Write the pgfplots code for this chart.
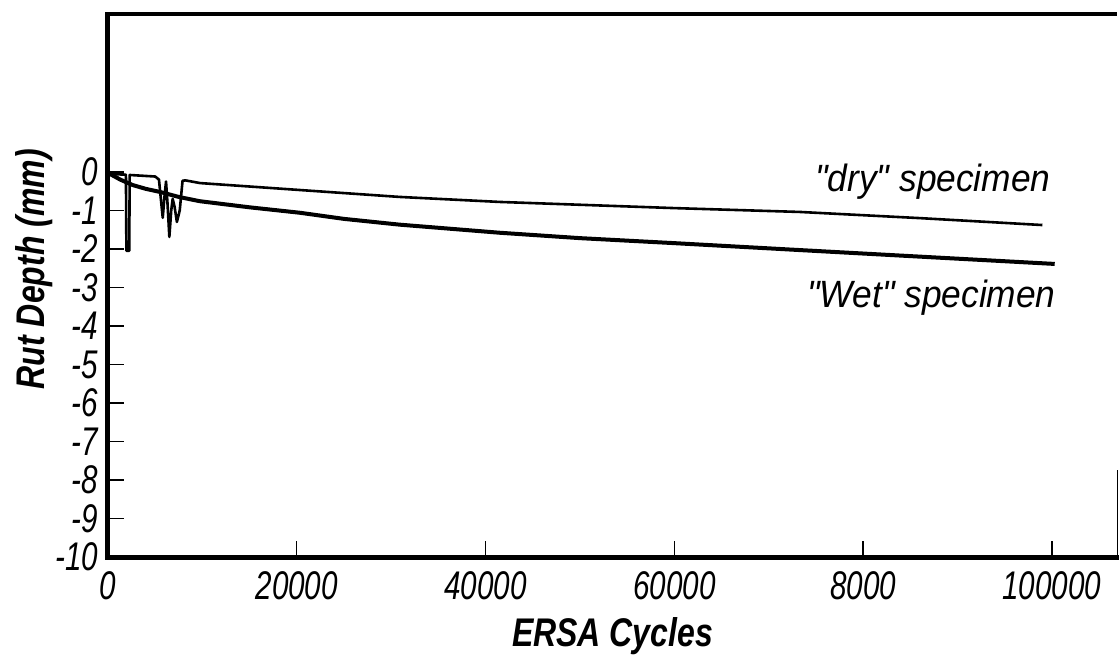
\documentclass[border=0pt]{standalone}
\usepackage{pgfplots}
\pgfplotsset{compat=1.18}
\usepackage{fontspec}
\setmainfont{Liberation Sans}
\newfontfamily\tickfont[FakeStretch=0.74]{Liberation Sans}
\newfontfamily\notefont[FakeStretch=0.93]{Liberation Sans}
\newfontfamily\labfont[FakeStretch=0.8]{Liberation Sans}

% rut depth (mm) vs ERSA cycles
\pgfplotstableread{
x y
0 0
400 -0.08
1300 -0.2
2600 -0.34
4000 -0.44
5500 -0.52
7500 -0.65
9700 -0.76
15000 -0.92
20300 -1.06
25000 -1.22
30900 -1.37
41500 -1.58
50000 -1.72
60000 -1.85
73300 -2.03
86000 -2.2
100300 -2.39
}\wettab

\pgfplotstableread{
x y
0 -0.02
300 -0.06
1900 -0.07
1950 -2.05
2250 -2.05
2300 -0.08
5000 -0.12
5400 -0.2
5600 -0.7
5800 -1.19
6000 -0.6
6150 -0.25
6300 -0.8
6500 -1.69
6700 -1.0
6850 -0.7
7050 -0.9
7300 -1.3
7600 -1.0
7900 -0.23
8200 -0.22
9750 -0.29
20300 -0.47
30900 -0.65
41500 -0.78
60000 -0.94
73300 -1.04
86000 -1.2
99000 -1.38
}\drytab

\begin{document}
\begin{tikzpicture}
\begin{axis}[
    scale only axis,
    width=504.5pt, height=271.5pt,
    xmin=0, xmax=106900,
    ymin=-10, ymax=4.1,
    axis lines=left,
    axis line style={-, line width=2.5pt, line cap=rect},
    clip=false,
    scaled x ticks=false,
    tick align=inside,
    major tick length=8pt,
    tick style={line width=0.7pt, black},
    xtick={0,20000,40000,60000,80000,100000},
    xticklabels={0,20000,40000,60000,8000,100000},
    ytick={0,-1,-2,-3,-4,-5,-6,-7,-8,-9,-10},
    yticklabels={0,-1,-2,-3,-4,-5,-6,-7,-8,-9,-10},
    xticklabel style={font=\tickfont\itshape\fontsize{20}{23}\selectfont, anchor=base, yshift=-21pt},
    yticklabel style={font=\tickfont\itshape\fontsize{20}{23}\selectfont, anchor=east, xshift=-1.5pt},
    xlabel={ERSA Cycles},
    ylabel={Rut Depth (mm)},
    every axis x label/.style={at={(rel axis cs:0.5,0)}, anchor=base, yshift=-44.5pt,
        font=\labfont\bfseries\itshape\fontsize{20}{23}\selectfont},
    every axis y label/.style={at={(rel axis cs:-0.0733,0.53)}, anchor=center, rotate=90,
        font=\labfont\bfseries\itshape\fontsize{20}{23}\selectfont},
]
\addplot[black, line width=2pt, line join=round] table[x=x, y=y] {\wettab};
\addplot[black, line width=1.3pt, line join=round] table[x=x, y=y] {\drytab};

\draw[line width=2pt] (rel axis cs:0,1) -- (rel axis cs:1,1);
\draw[line width=0.5pt] (rel axis cs:1,0) -- (rel axis cs:1,0.16);

\node[anchor=base west, inner sep=0pt, font=\notefont\itshape\fontsize{19}{22}\selectfont]
    at (axis cs:74900,-0.52) {"dry" specimen};
\node[anchor=base west, inner sep=0pt, font=\notefont\itshape\fontsize{19}{22}\selectfont]
    at (axis cs:74050,-3.51) {"Wet" specimen};

\coordinate (SW) at (rel axis cs:0,0);
\coordinate (NE) at (rel axis cs:1,1);
\end{axis}
\pgfresetboundingbox
\path ([shift={(-54pt,-52pt)}]SW) rectangle ([shift={(1pt,7pt)}]NE);
\end{tikzpicture}
\end{document}
